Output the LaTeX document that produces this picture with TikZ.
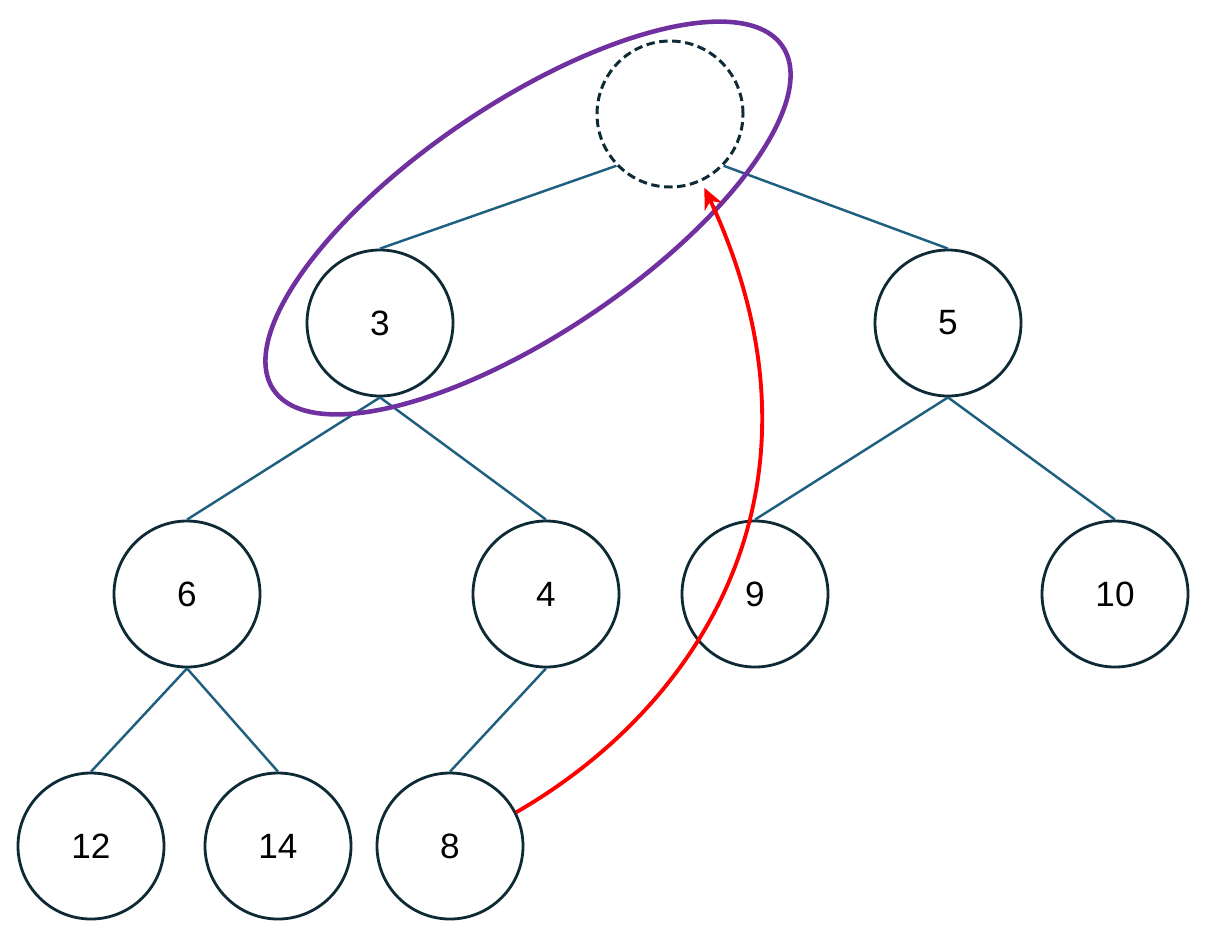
\documentclass[tikz,border=0pt]{standalone}
\usepackage{fontspec}
\setmainfont{Liberation Sans}
\usetikzlibrary{arrows.meta}
\definecolor{edgeblue}{HTML}{1F5F7F}
\definecolor{ringdark}{HTML}{0E2A35}
\definecolor{heappurple}{HTML}{7030A0}

\begin{document}
\begin{tikzpicture}
\useasboundingbox (0,0) rectangle (12.13,-9.29);
\begin{scope}[every node/.style={circle,draw=ringdark,line width=0.8pt,minimum size=1.46cm,inner sep=0pt,font=\fontsize{10}{12}\selectfont}]
    \node [dash pattern=on 2.4pt off 1.3pt, line width=0.85pt] (r) at (6.70,-1.14) {};
    \node (a) at (3.80,-3.23) {3};
    \node (b) at (9.48,-3.23) {5};
    \node (c) at (1.87,-5.94) {6};
    \node (d) at (5.46,-5.94) {4};
    \node (e) at (7.55,-5.94) {9};
    \node (f) at (11.15,-5.94) {10};
    \node (g) at (0.91,-8.46) {12};
    \node (h) at (2.78,-8.46) {14};
    \node (i) at (4.50,-8.46) {8};

    \path [edgeblue, line width=0.7pt] (r.-136) edge (a.north);
    \path [edgeblue, line width=0.7pt] (r.-44) edge (b.north);
    \path [edgeblue, line width=0.7pt] (a.south) edge (c.north);
    \path [edgeblue, line width=0.7pt] (a.south) edge (d.north);
    \path [edgeblue, line width=0.7pt] (b.south) edge (e.north);
    \path [edgeblue, line width=0.7pt] (b.south) edge (f.north);
    \path [edgeblue, line width=0.7pt] (c.south) edge (g.north);
    \path [edgeblue, line width=0.7pt] (c.south) edge (h.north);
    \path [edgeblue, line width=0.7pt] (d.south) edge (i.north);
\end{scope}

\draw [heappurple, line width=1.3pt, rotate around={34:(5.28,-2.18)}] (5.28,-2.18) ellipse [x radius=3.07, y radius=1.15];
\draw [red, line width=1.1pt, -{Stealth[length=6pt,width=5.5pt]}, shorten >=2pt] (i.27) .. controls +(30:2.2) and +(-65:3.3) .. (r.-65);

\end{tikzpicture}
\end{document}
